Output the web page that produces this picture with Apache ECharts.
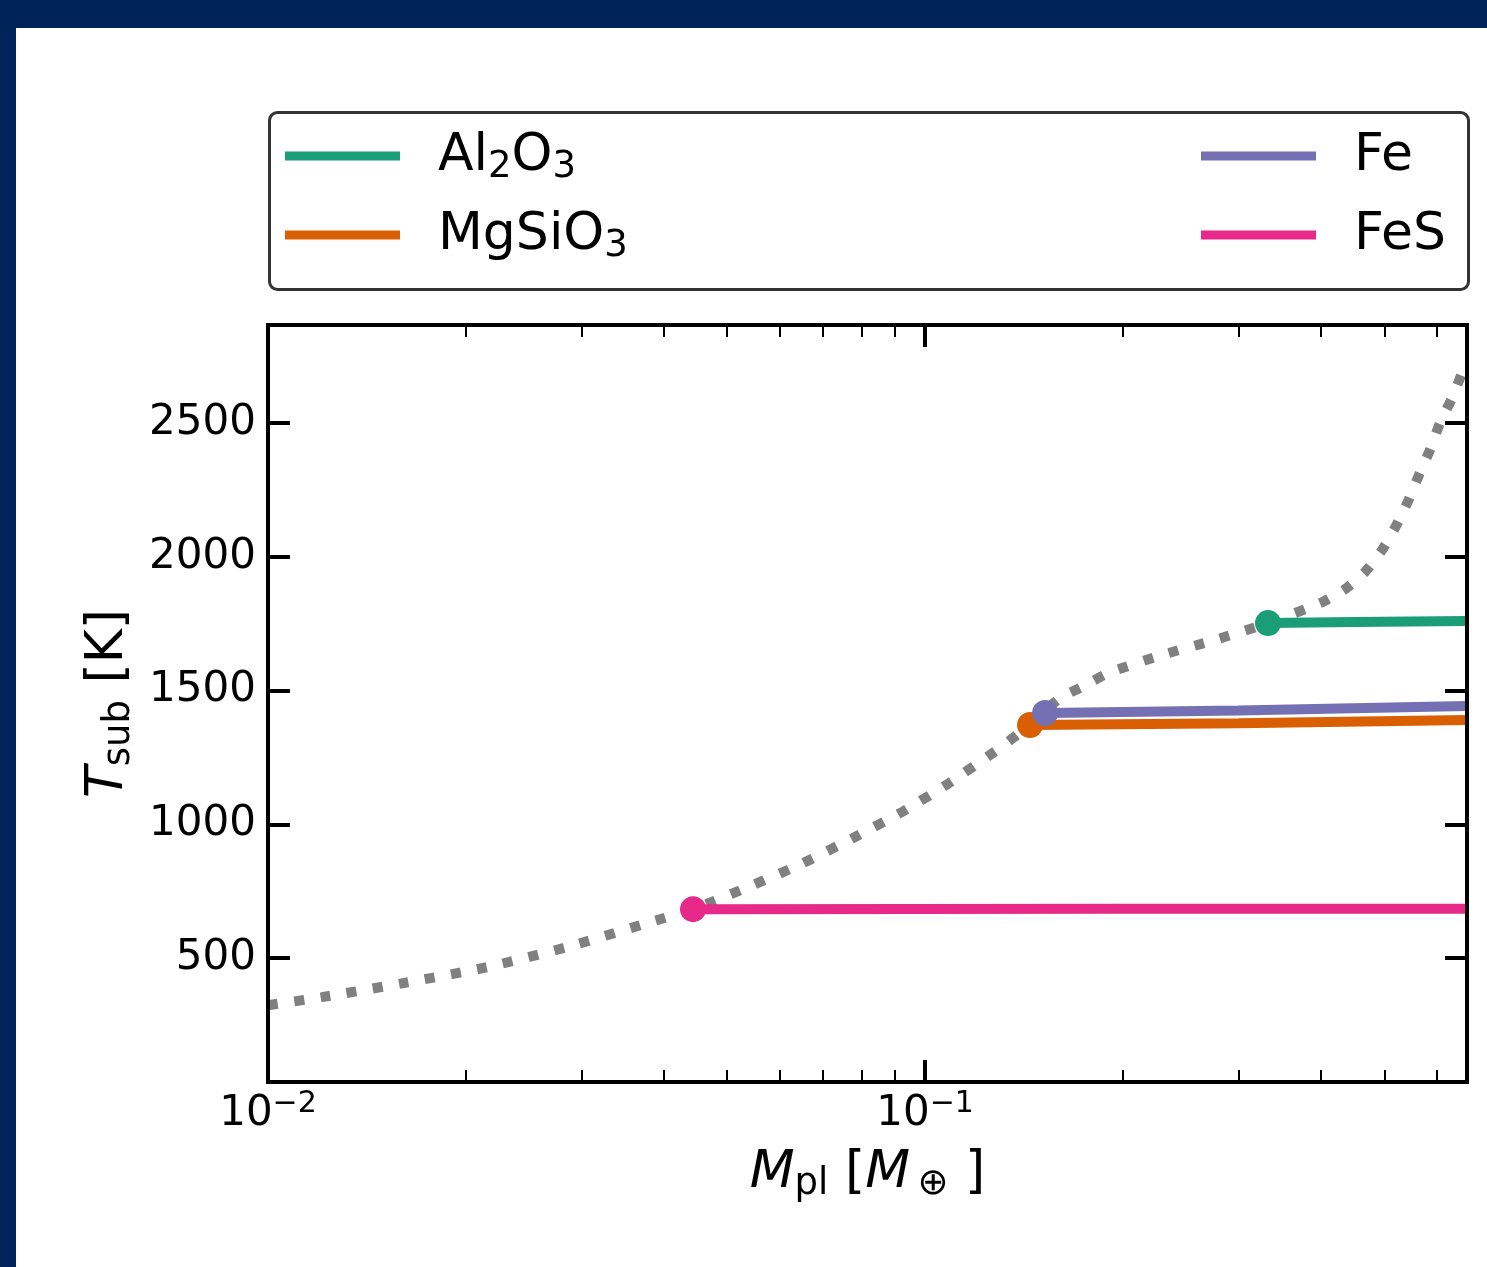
<!DOCTYPE html>
<html>
<head>
<meta charset="utf-8">
<script src="https://cdn.jsdelivr.net/npm/echarts@6/dist/echarts.min.js"></script>
<style>
html, body { margin: 0; padding: 0; width: 1487px; height: 1267px; overflow: hidden; background: #00235a; }
#container { position: absolute; left: 16px; top: 28px; width: 1471px; height: 1239px; background: #fff; }
</style>
</head>
<body>
<div id="container"></div>
<script>
// sublimation temperature curve (dotted grey)
var curveMass = [0.0100, 0.01208, 0.01610, 0.02154, 0.02851, 0.03775, 0.04436, 0.05472, 0.06520, 0.07771,
    0.09226, 0.10877, 0.12735, 0.13804, 0.1605, 0.1746, 0.1899, 0.2295, 0.2763, 0.3327,
    0.3994, 0.4342, 0.4673, 0.4962, 0.5211, 0.5435, 0.5648, 0.5869, 0.6078, 0.6340, 0.6568, 0.6682];
var curveT = [324, 354, 407, 466, 541, 631, 683, 773, 855, 949,
    1046, 1154, 1270, 1334, 1472, 1517, 1565, 1633, 1689, 1752,
    1827, 1876, 1943, 2025, 2115, 2208, 2306, 2399, 2500, 2593, 2687, 2728];

// species lines (first point gets the marker)
var al2o3Mass = [0.3327, 0.45, 0.6682];
var al2o3T = [1752, 1756, 1760];
var mgsio3Mass = [0.1445, 0.3, 0.6682];
var mgsio3T = [1371, 1378, 1390];
var feMass = [0.1523, 0.3, 0.6682];
var feT = [1416, 1425, 1442];
var fesMass = [0.04436, 0.2, 0.6682];
var fesT = [683, 684, 684];

var xMajor = [0.01, 0.1];
var xMinor = [0.02, 0.03, 0.04, 0.05, 0.06, 0.07, 0.08, 0.09, 0.2, 0.3, 0.4, 0.5, 0.6];
var yTicks = [500, 1000, 1500, 2000, 2500];

var xMin = 0.01, xMax = 0.6682;
var yMin = 37, yMax = 2866;

var FONT = 'DejaVu Sans';

function pairs(xs, ys) {
    return xs.map(function (x, i) { return [x, ys[i]]; });
}
function fmtChem(name) {
    return name.replace(/(\d)/g, '{sub|$1}');
}

var myChart = echarts.init(document.getElementById('container'));

function speciesSeries(name, color, xs, ys) {
    return {
        name: name,
        type: 'line',
        color: color,
        data: pairs(xs, ys),
        symbol: 'circle',
        symbolSize: function (v, params) { return params.dataIndex === 0 ? 26 : 0; },
        showAllSymbol: true,
        lineStyle: { width: 10, color: color },
        itemStyle: { color: color },
        z: 3,
        silent: true
    };
}

var axisBase = {
    type: 'log',
    logBase: 10,
    min: xMin,
    max: xMax,
    gridIndex: 0,
    splitLine: { show: false },
    z: 5
};

var legendText = {
    fontFamily: FONT, fontSize: 52, color: '#000', lineHeight: 60,
    padding: [0, 0, 0, 33],
    rich: { sub: { fontFamily: FONT, fontSize: 37, lineHeight: 36, verticalAlign: 'bottom', color: '#000' } }
};

var option = {
    animation: false,
    grid: {
        left: 252, top: 297, width: 1199, height: 757,
        show: false,
        containLabel: false,
        outerBoundsMode: 'none'
    },
    graphic: [{
        type: 'rect',
        left: 252, top: 83,
        shape: { width: 1199, height: 177, r: 8 },
        style: { fill: '#fff', stroke: '#333', lineWidth: 3 },
        z: 0
    }],
    legend: [
        {
            data: ['Al2O3', 'MgSiO3'],
            orient: 'vertical',
            left: 264, top: 93,
            icon: 'rect', itemWidth: 115, itemHeight: 9, itemGap: 19,
            formatter: fmtChem,
            selectedMode: false,
            textStyle: legendText,
            z: 4
        },
        {
            data: ['Fe', 'FeS'],
            orient: 'vertical',
            left: 1180, top: 93,
            icon: 'rect', itemWidth: 115, itemHeight: 9, itemGap: 19,
            formatter: fmtChem,
            selectedMode: false,
            textStyle: legendText,
            z: 4
        }
    ],
    xAxis: [
        Object.assign({}, axisBase, {
            position: 'bottom',
            axisLine: { show: true, lineStyle: { color: '#000', width: 4, cap: 'square' } },
            axisTick: { show: true, inside: true, length: 22, customValues: xMajor, lineStyle: { color: '#000', width: 4 } },
            axisLabel: {
                show: true, customValues: xMajor, margin: 7,
                fontFamily: FONT, fontSize: 42, lineHeight: 50, color: '#000',
                showMinLabel: true, showMaxLabel: true,
                formatter: function (v) {
                    var e = Math.round(Math.log10(v));
                    return '10{sup|\u2212' + (-e) + '}';
                },
                rich: { sup: { fontFamily: FONT, fontSize: 30, lineHeight: 25, verticalAlign: 'top', color: '#000' } }
            },
            name: '{it|M}{sub|pl} [{it|M}{sub|\u2009\u2295} ]',
            nameLocation: 'middle',
            nameGap: 61,
            nameMoveOverlap: false,
            nameTextStyle: {
                fontFamily: FONT, fontSize: 52, color: '#000', lineHeight: 60,
                rich: {
                    it: { fontFamily: FONT, fontSize: 52, fontStyle: 'italic', color: '#000', lineHeight: 60 },
                    sub: { fontFamily: FONT, fontSize: 37, lineHeight: 34, verticalAlign: 'bottom', color: '#000' }
                }
            }
        }),
        Object.assign({}, axisBase, {
            position: 'bottom',
            axisLine: { show: false },
            axisTick: { show: true, inside: true, length: 12, customValues: xMinor, lineStyle: { color: '#000', width: 2 } },
            axisLabel: { show: false }
        }),
        Object.assign({}, axisBase, {
            position: 'top',
            axisLine: { show: true, lineStyle: { color: '#000', width: 4, cap: 'square' } },
            axisTick: { show: true, inside: true, length: 22, customValues: xMajor, lineStyle: { color: '#000', width: 4 } },
            axisLabel: { show: false }
        }),
        Object.assign({}, axisBase, {
            position: 'top',
            axisLine: { show: false },
            axisTick: { show: true, inside: true, length: 12, customValues: xMinor, lineStyle: { color: '#000', width: 2 } },
            axisLabel: { show: false }
        })
    ],
    yAxis: [
        {
            type: 'value', min: yMin, max: yMax, position: 'left', gridIndex: 0, z: 5,
            splitLine: { show: false },
            axisLine: { show: true, lineStyle: { color: '#000', width: 4, cap: 'square' } },
            axisTick: { show: true, inside: true, length: 22, customValues: yTicks, lineStyle: { color: '#000', width: 4 } },
            axisLabel: {
                show: true, customValues: yTicks, margin: 12, fontFamily: FONT, fontSize: 42, color: '#000',
                formatter: function (v) { return String(v); }
            },
            name: '{it|T}{sub|sub} [K]',
            nameLocation: 'middle',
            nameGap: 130,
            nameMoveOverlap: false,
            nameTextStyle: {
                fontFamily: FONT, fontSize: 52, color: '#000', lineHeight: 60,
                rich: {
                    it: { fontFamily: FONT, fontSize: 52, fontStyle: 'italic', color: '#000', lineHeight: 60 },
                    sub: { fontFamily: FONT, fontSize: 37, lineHeight: 36, verticalAlign: 'bottom', color: '#000' }
                }
            }
        },
        {
            type: 'value', min: yMin, max: yMax, position: 'right', gridIndex: 0, z: 5,
            splitLine: { show: false },
            axisLine: { show: true, lineStyle: { color: '#000', width: 4, cap: 'square' } },
            axisTick: { show: true, inside: true, length: 22, customValues: yTicks, lineStyle: { color: '#000', width: 4 } },
            axisLabel: { show: false }
        }
    ],
    series: [
        {
            name: 'curve',
            type: 'line',
            data: pairs(curveMass, curveT),
            smooth: 0.2,
            showSymbol: false,
            symbol: 'none',
            lineStyle: { color: '#808080', width: 10, type: [10, 16.5], cap: 'butt' },
            z: 2,
            silent: true
        },
        speciesSeries('Al2O3', '#1b9e77', al2o3Mass, al2o3T),
        speciesSeries('MgSiO3', '#d95f02', mgsio3Mass, mgsio3T),
        speciesSeries('Fe', '#7570b3', feMass, feT),
        speciesSeries('FeS', '#e7298a', fesMass, fesT)
    ]
};

myChart.setOption(option);
</script>
</body>
</html>
